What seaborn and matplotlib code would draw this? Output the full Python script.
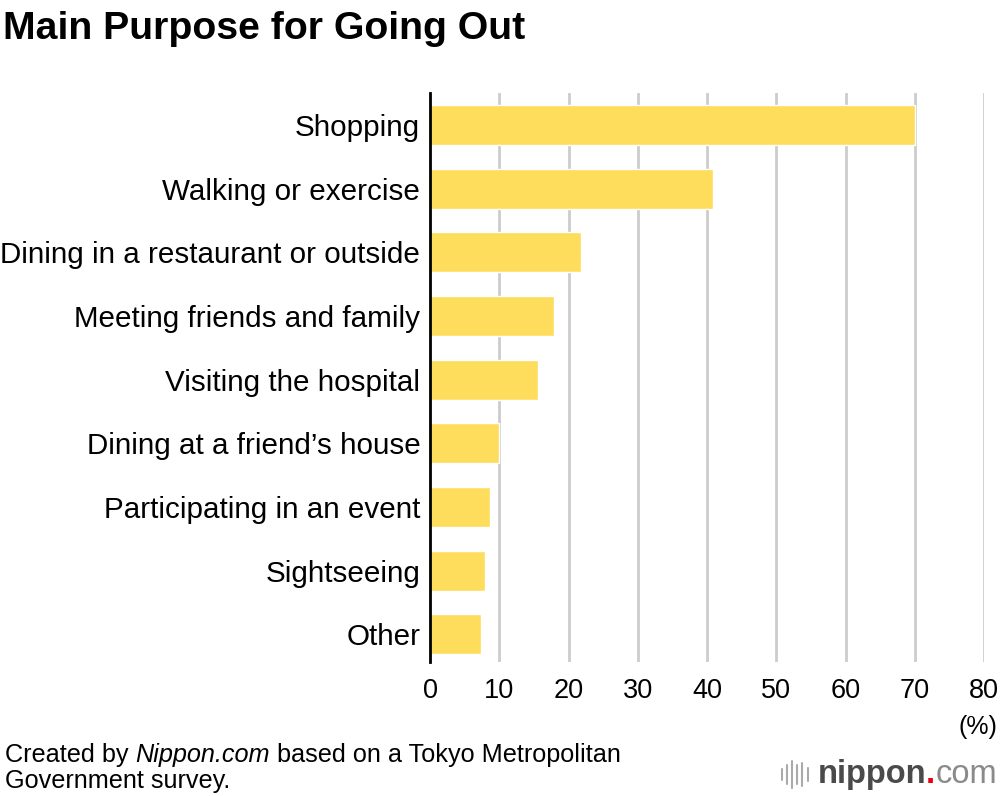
import matplotlib
matplotlib.use("Agg")
import matplotlib.pyplot as plt
import seaborn as sns
import pandas as pd
from matplotlib.lines import Line2D

# Data
purposes = [
    "Shopping",
    "Walking or exercise",
    "Dining in a restaurant or outside",
    "Meeting friends and family",
    "Visiting the hospital",
    "Dining at a friend\u2019s house",
    "Participating in an event",
    "Sightseeing",
    "Other",
]
shares = [70.1, 40.8, 21.8, 17.9, 15.6, 9.9, 8.6, 8.0, 7.4]
x_ticks = [0, 10, 20, 30, 40, 50, 60, 70, 80]

df = pd.DataFrame({"purpose": purposes, "share": shares})

sns.set_style("white")
plt.rcParams["font.family"] = ["Liberation Sans", "DejaVu Sans"]
plt.rcParams["text.color"] = "black"
plt.rcParams["xtick.color"] = "black"
plt.rcParams["ytick.color"] = "black"

fig = plt.figure(figsize=(10, 7.96), dpi=100)
ax = fig.add_axes([0.43, 0.168, 0.554, 0.715])

sns.barplot(data=df, x="share", y="purpose", color="#FEDD5C", saturation=1,
            width=0.63, ax=ax, zorder=3)

ax.set_xlim(0, 80)
ax.set_ylim(8.44, -0.5)
ax.set_xticks(x_ticks)
ax.set_xticklabels([str(t) for t in x_ticks], fontsize=19.5)
ax.tick_params(axis="y", labelsize=21.3, length=0, pad=7)
ax.tick_params(axis="x", length=0, pad=11)
ax.set_xlabel("")
ax.set_ylabel("")

for t in x_ticks[1:]:
    ax.axvline(t, color="#cccccc", lw=2, zorder=1)

for side in ["top", "right", "bottom"]:
    ax.spines[side].set_visible(False)
ax.spines["left"].set_color("black")
ax.spines["left"].set_linewidth(2)
ax.spines["left"].set_zorder(5)

fig.text(0.003, 0.963, "Main Purpose for Going Out", fontsize=28.3,
         fontweight="bold", va="center", ha="left")
fig.text(0.997, 0.087, "(%)", fontsize=18, ha="right", va="center")

renderer = fig.canvas.get_renderer()


def chain(pieces, x, y, size):
    # place text pieces one after another on a line
    for txt, kw in pieces:
        t = fig.text(x, y, txt, fontsize=size, va="center", ha="left", **kw)
        bb = t.get_window_extent(renderer=renderer)
        x = bb.x1 / fig.bbox.width


def chain_right(pieces, x, y, size):
    # same, but ending at x; returns the left edge
    for txt, kw in reversed(pieces):
        t = fig.text(x, y, txt, fontsize=size, va="center", ha="right", **kw)
        bb = t.get_window_extent(renderer=renderer)
        x = bb.x0 / fig.bbox.width
    return x


chain([("Created by ", {}), ("Nippon.com", {"style": "italic"}),
       (" based on a Tokyo Metropolitan", {})], 0.005, 0.052, 18.2)
fig.text(0.005, 0.019, "Government survey.", fontsize=18.2, va="center", ha="left")

# nippon.com logo
left = chain_right([("nippon", {"color": "#4a4a4a", "fontweight": "bold"}),
                    (".", {"color": "#e60012", "fontweight": "bold"}),
                    ("com", {"color": "#8a8a8a"})], 0.997, 0.027, 23.5)
for i, h in enumerate([0.014, 0.024, 0.034, 0.024, 0.028, 0.016]):
    x = left - 0.036 + i * 0.0052
    fig.add_artist(Line2D([x, x], [0.027 - h / 2, 0.027 + h / 2],
                          color="#aaaaaa", lw=1.5, transform=fig.transFigure))

fig.savefig("out.png", dpi=100)
